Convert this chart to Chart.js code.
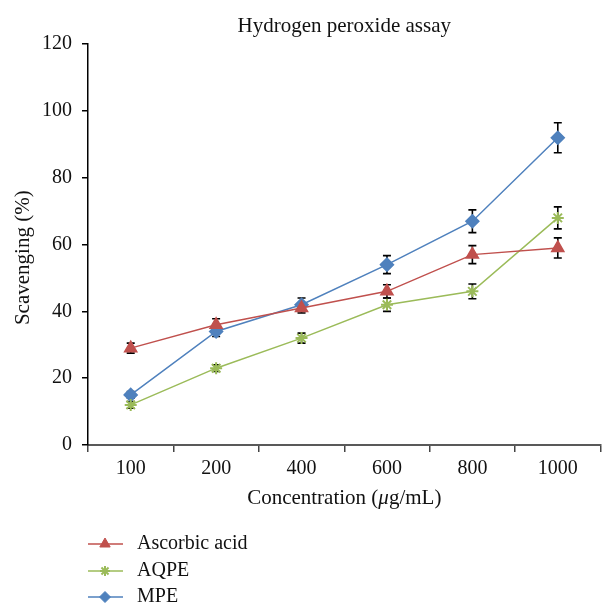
<!DOCTYPE html>
<html>
<head>
<meta charset="utf-8">
<script src="https://cdn.jsdelivr.net/npm/chart.js@4.4.0/dist/chart.umd.min.js"></script>
<style>
  html, body { margin: 0; padding: 0; background: #fff; }
  #wrap { width: 609px; height: 603px; }
</style>
</head>
<body>
<div id="wrap"><canvas id="myChart" width="609" height="603"></canvas></div>
<script>
// Data
const concentrations = ['100', '200', '400', '600', '800', '1000'];
const ascorbicAcid = [29, 36, 41, 46, 57, 59];
const ascorbicErr = [1.5, 1.8, 1.5, 2.0, 2.7, 3.0];
const aqpe = [12, 23, 32, 42, 46, 68];
const aqpeErr = [1.0, 1.0, 1.5, 2.0, 2.2, 3.3];
const mpe = [15, 34, 42, 54, 67, 92];
const mpeErr = [1.0, 1.5, 2.0, 2.7, 3.4, 4.5];
const yTicks = [0, 20, 40, 60, 80, 100, 120];

const serif = '"Liberation Serif", "DejaVu Serif", serif';

// Error bars under the markers
const errorBars = {
    id: 'errorBars',
    beforeDatasetsDraw(chart) {
        const ctx = chart.ctx;
        const y = chart.scales.y;
        ctx.save();
        ctx.strokeStyle = '#000';
        ctx.lineWidth = 1.6;
        chart.data.datasets.forEach((ds, i) => {
            const meta = chart.getDatasetMeta(i);
            meta.data.forEach((pt, j) => {
                const e = ds.errors[j];
                const top = y.getPixelForValue(ds.data[j] + e);
                const bot = y.getPixelForValue(ds.data[j] - e);
                ctx.beginPath();
                ctx.moveTo(pt.x, top); ctx.lineTo(pt.x, bot);
                ctx.moveTo(pt.x - 4, top); ctx.lineTo(pt.x + 4, top);
                ctx.moveTo(pt.x - 4, bot); ctx.lineTo(pt.x + 4, bot);
                ctx.stroke();
            });
        });
        ctx.restore();
    }
};

// x axis title with an italic mu
const xTitle = {
    id: 'xTitle',
    afterDraw(chart) {
        const ctx = chart.ctx;
        const area = chart.chartArea;
        const parts = [
            ['Concentration (', 'normal'],
            ['\u03BC', 'italic'],
            ['g/mL)', 'normal']
        ];
        ctx.save();
        ctx.fillStyle = '#111';
        ctx.textBaseline = 'middle';
        let total = 0;
        parts.forEach(p => { ctx.font = p[1] + ' 21px ' + serif; total += ctx.measureText(p[0]).width; });
        let x = (area.left + area.right) / 2 - total / 2;
        parts.forEach(p => {
            ctx.font = p[1] + ' 21px ' + serif;
            ctx.fillText(p[0], x, 498);
            x += ctx.measureText(p[0]).width;
        });
        ctx.restore();
    }
};

// Vertical legend at the bottom left
const stackedLegend = {
    id: 'stackedLegend',
    afterDraw(chart) {
        const ctx = chart.ctx;
        const rows = [544, 571, 597];
        ctx.save();
        chart.data.datasets.forEach((ds, i) => {
            const yy = rows[i];
            ctx.strokeStyle = ds.borderColor;
            ctx.lineWidth = 1.5;
            ctx.beginPath();
            ctx.moveTo(88, yy); ctx.lineTo(123, yy);
            ctx.stroke();
            ctx.fillStyle = ds.pointBackgroundColor;
            ctx.strokeStyle = ds.pointBorderColor;
            ctx.lineWidth = ds.pointBorderWidth || 1;
            Chart.helpers.drawPoint(ctx, {
                pointStyle: ds.pointStyle,
                radius: ds.pointRadius - 1,
                borderWidth: ds.pointBorderWidth || 1
            }, 105, yy);
            ctx.fillStyle = '#111';
            ctx.font = '20px ' + serif;
            ctx.textBaseline = 'middle';
            ctx.fillText(ds.label, 137, yy);
        });
        ctx.restore();
    }
};

const ctx = document.getElementById('myChart').getContext('2d');
const myChart = new Chart(ctx, {
    type: 'line',
    data: {
        labels: concentrations,
        datasets: [
            {
                label: 'Ascorbic acid', data: ascorbicAcid, errors: ascorbicErr,
                borderColor: '#C0504D', backgroundColor: '#C0504D',
                pointBackgroundColor: '#C0504D', pointBorderColor: '#C0504D',
                pointStyle: 'triangle', pointRadius: 7, borderWidth: 1.5
            },
            {
                label: 'AQPE', data: aqpe, errors: aqpeErr,
                borderColor: '#9BBB59', backgroundColor: '#9BBB59',
                pointBackgroundColor: '#9BBB59', pointBorderColor: '#9BBB59',
                pointStyle: 'star', pointRadius: 6, pointBorderWidth: 2, borderWidth: 1.5
            },
            {
                label: 'MPE', data: mpe, errors: mpeErr,
                borderColor: '#4F81BD', backgroundColor: '#4F81BD',
                pointBackgroundColor: '#4F81BD', pointBorderColor: '#4F81BD',
                pointStyle: 'rectRot', pointRadius: 6.5, borderWidth: 1.5
            }
        ]
    },
    options: {
        responsive: false,
        animation: false,
        layout: { padding: { left: 0, right: 4, top: 0, bottom: 88 } },
        plugins: {
            legend: { display: false },
            tooltip: { enabled: false },
            title: {
                display: true, fullSize: false, text: 'Hydrogen peroxide assay', color: '#111',
                font: { family: serif, size: 21, weight: 'normal' },
                padding: { top: 14, bottom: 5 }
            }
        },
        scales: {
            x: {
                offset: true,
                afterFit: axis => { axis.height = 70; },
                grid: { offset: true, drawOnChartArea: false, tickLength: 7, color: '#444', lineWidth: 1.5 },
                border: { color: '#595959', width: 2 },
                ticks: { color: '#111', font: { family: serif, size: 20 }, padding: 5 },
                title: { display: false }
            },
            y: {
                min: 0, max: 120,
                afterFit: axis => { axis.width = 88; },
                afterBuildTicks: axis => { axis.ticks = yTicks.map(v => ({ value: v })); },
                grid: { drawOnChartArea: false, tickLength: 6, color: '#000', lineWidth: 1.5 },
                border: { color: '#000', width: 1.5 },
                ticks: { color: '#111', font: { family: serif, size: 20 }, padding: 10 },
                title: {
                    display: true, text: 'Scavenging (%)\u00A0\u00A0\u00A0\u00A0\u00A0', color: '#111',
                    font: { family: serif, size: 21 }, padding: { top: 11, bottom: 0 }
                }
            }
        }
    },
    plugins: [errorBars, xTitle, stackedLegend]
});
</script>
</body>
</html>
